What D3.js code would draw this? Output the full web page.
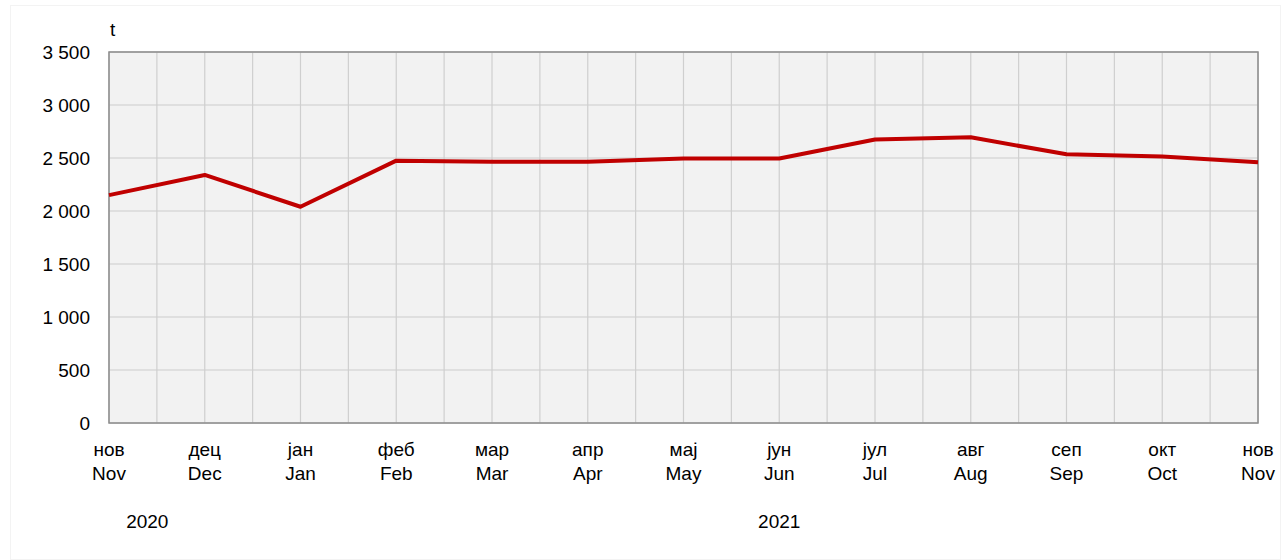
<!DOCTYPE html>
<html>
<head>
<meta charset="utf-8">
<script src="https://cdn.jsdelivr.net/npm/d3@7"></script>
<style>
  body { margin: 0; background: #fff; }
  text { font-family: "Liberation Sans Narrow", "Arial Narrow", "Liberation Sans", sans-serif; fill: #000; }
</style>
</head>
<body>
<div id="chart"></div>
<script>
var monthsSr = ["нов", "дец", "јан", "феб", "мар", "апр", "мај", "јун", "јул", "авг", "сеп", "окт", "нов"];
var monthsEn = ["Nov", "Dec", "Jan", "Feb", "Mar", "Apr", "May", "Jun", "Jul", "Aug", "Sep", "Oct", "Nov"];
var values = [2150, 2340, 2040, 2475, 2465, 2465, 2495, 2495, 2675, 2695, 2535, 2515, 2460];
var yTicks = [0, 500, 1000, 1500, 2000, 2500, 3000, 3500];
var years = [{label: "2020", at: 0.4}, {label: "2021", at: 7}];

var W = 1286, H = 560;
var box = {xmin: 109, xmax: 1258, ymin: 52, ymax: 423};

var svg = d3.select("#chart").append("svg")
    .attr("width", W)
    .attr("height", H);

// faint outer frame
svg.append("rect")
    .attr("x", 10.5).attr("y", 5.5)
    .attr("width", W - 16).attr("height", H - 6)
    .attr("fill", "none")
    .attr("stroke", "#f3f3f3");

var x = d3.scaleLinear()
    .domain([0, values.length - 1])
    .range([box.xmin, box.xmax]);

var y = d3.scaleLinear()
    .domain([0, 3500])
    .range([box.ymax, box.ymin]);

// plot background
svg.append("rect")
    .attr("x", box.xmin).attr("y", box.ymin)
    .attr("width", box.xmax - box.xmin)
    .attr("height", box.ymax - box.ymin)
    .attr("fill", "#f2f2f2");

// horizontal gridlines
svg.selectAll(".hgrid")
    .data(yTicks)
    .enter().append("line")
        .attr("class", "hgrid")
        .attr("stroke", "#d9d9d9")
        .attr("stroke-width", 1.5)
        .attr("x1", box.xmin).attr("x2", box.xmax)
        .attr("y1", function(d) { return y(d); })
        .attr("y2", function(d) { return y(d); });

// vertical gridlines every half month
svg.selectAll(".vgrid")
    .data(d3.range(0, values.length - 0.5, 0.5))
    .enter().append("line")
        .attr("class", "vgrid")
        .attr("stroke", "#cfcfcf")
        .attr("stroke-width", 1.2)
        .attr("y1", box.ymin).attr("y2", box.ymax)
        .attr("x1", function(d) { return x(d); })
        .attr("x2", function(d) { return x(d); });

// plot frame
svg.append("rect")
    .attr("x", box.xmin).attr("y", box.ymin)
    .attr("width", box.xmax - box.xmin)
    .attr("height", box.ymax - box.ymin)
    .attr("fill", "none")
    .attr("stroke", "#8c8c8c")
    .attr("stroke-width", 1.5);

// y tick labels
svg.selectAll(".ylabel")
    .data(yTicks)
    .enter().append("text")
        .attr("class", "ylabel")
        .attr("text-anchor", "end")
        .attr("x", box.xmin - 19)
        .attr("y", function(d) { return y(d) + 7; })
        .style("font-size", "19px")
        .text(function(d) { return d3.format(",")(d).replace(/,/g, " "); });

// unit
svg.append("text")
    .attr("x", 110)
    .attr("y", 36)
    .style("font-size", "19px")
    .text("t");

// month labels
var labels = svg.selectAll(".xlabel")
    .data(values)
    .enter().append("text")
        .attr("class", "xlabel")
        .attr("text-anchor", "middle")
        .style("font-size", "19px");
labels.append("tspan")
    .attr("x", function(d, i) { return x(i); })
    .attr("y", 456)
    .text(function(d, i) { return monthsSr[i]; });
labels.append("tspan")
    .attr("x", function(d, i) { return x(i); })
    .attr("y", 480)
    .text(function(d, i) { return monthsEn[i]; });

// years
svg.selectAll(".year")
    .data(years)
    .enter().append("text")
        .attr("class", "year")
        .attr("text-anchor", "middle")
        .attr("x", function(d) { return x(d.at); })
        .attr("y", 528)
        .style("font-size", "19px")
        .text(function(d) { return d.label; });

// series line
var line = d3.line()
    .x(function(d, i) { return x(i); })
    .y(function(d) { return y(d); });

svg.append("path")
    .datum(values)
    .attr("d", line)
    .attr("fill", "none")
    .attr("stroke", "#c00000")
    .attr("stroke-width", 4)
    .attr("stroke-linejoin", "round");
</script>
</body>
</html>
